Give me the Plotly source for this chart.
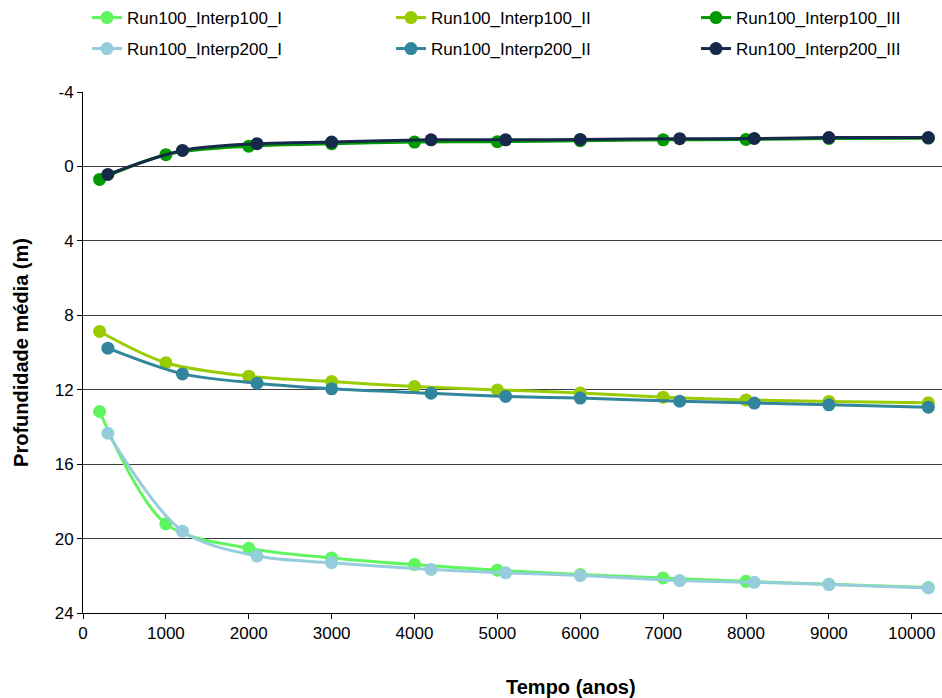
import plotly.graph_objects as go

# Time (years) for each interpolation set
anos_interp100 = [200, 1000, 2000, 3000, 4000, 5000, 6000, 7000, 8000, 9000, 10200]
anos_interp200 = [300, 1200, 2100, 3000, 4200, 5100, 6000, 7200, 8100, 9000, 10200]

# Mean depth (m) per run
run100_interp100_I = [13.17, 19.21, 20.52, 21.04, 21.40, 21.70, 21.93, 22.12, 22.30, 22.45, 22.63]
run100_interp100_II = [8.87, 10.55, 11.27, 11.56, 11.83, 12.01, 12.17, 12.40, 12.55, 12.63, 12.70]
run100_interp100_III = [0.70, -0.63, -1.09, -1.22, -1.31, -1.33, -1.38, -1.43, -1.45, -1.50, -1.52]
run100_interp200_I = [14.34, 19.60, 20.94, 21.30, 21.66, 21.84, 21.99, 22.26, 22.35, 22.47, 22.65]
run100_interp200_II = [9.77, 11.15, 11.65, 11.95, 12.19, 12.36, 12.45, 12.62, 12.72, 12.81, 12.94]
run100_interp200_III = [0.43, -0.86, -1.22, -1.31, -1.43, -1.43, -1.45, -1.49, -1.50, -1.55, -1.55]

y_ticks = [-4, 0, 4, 8, 12, 16, 20, 24]
y_labels = ["-4", "0", "4", "8", "12", "16", "20", "24"]
x_ticks = [0, 1000, 2000, 3000, 4000, 5000, 6000, 7000, 8000, 9000, 10000]

series = [
    ("Run100_Interp100_I", anos_interp100, run100_interp100_I, "#5ef55e"),
    ("Run100_Interp100_II", anos_interp100, run100_interp100_II, "#99cc00"),
    ("Run100_Interp100_III", anos_interp100, run100_interp100_III, "#009900"),
    ("Run100_Interp200_I", anos_interp200, run100_interp200_I, "#96cddc"),
    ("Run100_Interp200_II", anos_interp200, run100_interp200_II, "#31859c"),
    ("Run100_Interp200_III", anos_interp200, run100_interp200_III, "#16294a"),
]

FONT = "Liberation Sans, Arial, sans-serif"

# legend grid: 3 columns x 2 rows, one legend box per entry
col_x = [87, 391, 696]
row_y = [18, 49]

fig = go.Figure()
legends = {}
for i, (name, xs, ys, color) in enumerate(series):
    key = "legend" if i == 0 else f"legend{i + 1}"
    fig.add_trace(go.Scatter(
        x=xs, y=ys, name=name, mode="lines+markers",
        line=dict(color=color, width=3, shape="spline", smoothing=0.9),
        marker=dict(color=color, size=13),
        legend=key,
    ))
    legends[key] = dict(
        orientation="h", xref="container", yref="container",
        xanchor="left", yanchor="middle",
        x=col_x[i % 3] / 942, y=1 - row_y[i // 3] / 698,
        font=dict(family=FONT, size=17, color="#000"),
        bgcolor="rgba(0,0,0,0)", borderwidth=0,
        itemclick=False, itemdoubleclick=False,
    )

fig.update_layout(
    width=942, height=698,
    margin=dict(l=83, r=0, t=92, b=85),
    paper_bgcolor="white", plot_bgcolor="white",
    font=dict(family=FONT, size=17, color="#000"),
    showlegend=True,
    xaxis=dict(
        range=[0, 10365], tickvals=x_ticks, ticktext=[str(v) for v in x_ticks],
        showgrid=False, zeroline=False,
        showline=True, linecolor="#000", linewidth=1,
        ticks="outside", ticklen=5, tickcolor="#000",
        tickfont=dict(family=FONT, size=17, color="#000"),
    ),
    yaxis=dict(
        range=[24, -4], autorange=False, tickvals=y_ticks, ticktext=y_labels,
        showgrid=True, gridcolor="#3c3c3c", gridwidth=1, zeroline=False,
        showline=True, linecolor="#000", linewidth=1,
        ticks="outside", ticklen=5, tickcolor="#000",
        tickfont=dict(family=FONT, size=17, color="#000"),
        title=dict(text="<b>Profundidade média (m)</b>",
                   font=dict(family=FONT, size=20, color="#000"), standoff=20),
    ),
)
fig.update_layout(**legends)

# x-axis title, set slightly right of the visible plot centre
fig.add_annotation(
    text="<b>Tempo (anos)</b>", xref="paper", yref="paper",
    x=(571 - 83) / 859, y=-(687 - 613) / 521, xanchor="center", yanchor="middle",
    showarrow=False, font=dict(family=FONT, size=20, color="#000"),
)

fig.write_html("out.html")
